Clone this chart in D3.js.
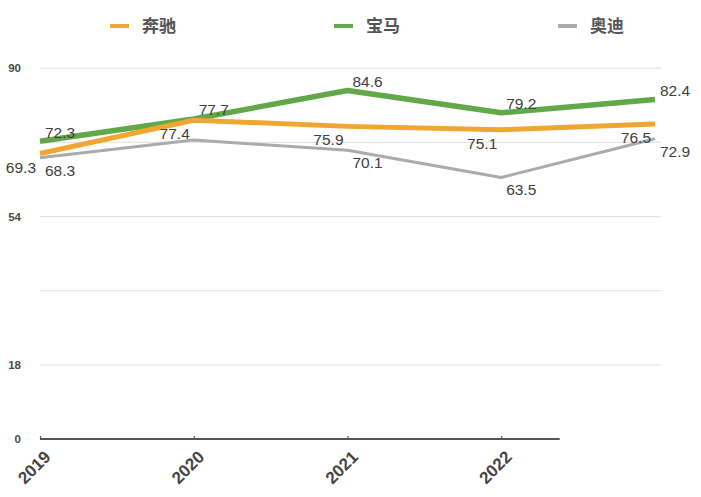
<!DOCTYPE html>
<html>
<head>
<meta charset="utf-8">
<script src="https://cdn.jsdelivr.net/npm/d3@7"></script>
<style>
    body { margin: 0; background: #fff; }
    svg { display: block; font-family: "Liberation Sans", Arial, sans-serif; }
</style>
</head>
<body>
<div id="chart"></div>
<script>
// Data
const years = [2019, 2020, 2021, 2022, 2023];
const yearLabels = ['2019', '2020', '2021', '2022'];
const benz = [69.3, 77.4, 75.9, 75.1, 76.5];
const bmw = [72.3, 77.7, 84.6, 79.2, 82.4];
const audi = [68.3, 72.6, 70.1, 63.5, 72.9];
const benzLabels = ['69.3', '77.4', '75.9', '75.1', '76.5'];
const bmwLabels = ['72.3', '77.7', '84.6', '79.2', '82.4'];
const audiLabels = ['68.3', null, '70.1', '63.5', '72.9'];
const seriesNames = ['奔驰', '宝马', '奥迪'];
const gridTicks = [0, 18, 36, 54, 72, 90];
const yTickLabels = [0, 18, 54, 90];

// Constants
const WIDTH = 701;
const HEIGHT = 497;
const LEFT = 40;
const RIGHT = 655;
const TOP = 68.3;
const BOTTOM = 439;

const svg = d3.select('#chart')
    .append('svg').attr('width', WIDTH).attr('height', HEIGHT);

const x = d3.scaleLinear().domain([2019, 2023]).range([LEFT, RIGHT]);
const y = d3.scaleLinear().domain([0, 90]).range([BOTTOM, TOP]);

// series styling (colour, width, label placement)
const series = [
    { name: seriesNames[0], values: benz, labels: benzLabels, color: '#f0a732', width: 5, anchor: 'end', dx: -4, dy: 19 },
    { name: seriesNames[1], values: bmw, labels: bmwLabels, color: '#62a849', width: 5.5, anchor: 'start', dx: 5, dy: -3.5 },
    { name: seriesNames[2], values: audi, labels: audiLabels, color: '#ababab', width: 3, anchor: 'start', dx: 5, dy: 18 }
];

// Gridlines
svg.append('g')
    .attr('class', 'grid')
    .selectAll('line')
    .data(gridTicks.filter(d => d > 0))
    .join('line')
    .attr('x1', LEFT)
    .attr('x2', RIGHT + 6)
    .attr('y1', d => y(d))
    .attr('y2', d => y(d))
    .attr('stroke', '#e4e4e4')
    .attr('stroke-width', 1.2);

// Y axis labels (only some ticks are labelled)
const yAxis = d3.axisLeft(y)
    .tickValues(yTickLabels)
    .tickSize(0)
    .tickPadding(0)
    .tickFormat(d3.format('d'));

svg.append('g')
    .attr('transform', `translate(21,0)`)
    .call(yAxis)
    .call(g => g.select('.domain').remove())
    .call(g => g.selectAll('text')
        .attr('font-size', 11.5)
        .attr('font-weight', 'bold')
        .attr('fill', '#4a4a4a')
        .attr('font-family', '"Liberation Sans", Arial, sans-serif'));

// X axis
const xAxis = d3.axisBottom(x)
    .tickValues(years.slice(0, yearLabels.length))
    .tickSize(-3)
    .tickFormat((d, i) => yearLabels[i]);

const xg = svg.append('g')
    .attr('transform', `translate(0,${BOTTOM})`)
    .call(xAxis);

// the axis line stops short of the last year in the original
xg.select('.domain')
    .attr('d', `M${x(2019)},0H${x(2022.38)}`)
    .attr('stroke', '#555')
    .attr('stroke-width', 2);

xg.selectAll('.tick line')
    .attr('stroke', '#555')
    .attr('stroke-width', 1.2);

xg.selectAll('.tick text')
    .attr('y', 0)
    .attr('dy', 0)
    .attr('text-anchor', 'end')
    .attr('dominant-baseline', 'middle')
    .attr('transform', 'translate(8,16) rotate(-45)')
    .attr('font-size', 17)
    .attr('font-weight', 'bold')
    .attr('fill', '#454545')
    .attr('font-family', '"Liberation Sans", Arial, sans-serif');

// Lines
const Gen = d3.line()
    .x((d, i) => x(years[i]))
    .y(d => y(d));

svg.append('g')
    .selectAll('path')
    .data(series.slice().reverse())
    .join('path')
    .attr('d', d => Gen(d.values))
    .attr('fill', 'none')
    .attr('stroke', d => d.color)
    .attr('stroke-width', d => d.width)
    .attr('stroke-linejoin', 'round');

// Data labels
series.forEach(s => {
    svg.append('g')
        .selectAll('text')
        .data(s.values.map((v, i) => ({ v, i, label: s.labels[i] })).filter(d => d.label !== null))
        .join('text')
        .attr('x', d => x(years[d.i]) + s.dx)
        .attr('y', d => y(d.v) + s.dy)
        .attr('text-anchor', s.anchor)
        .attr('font-size', 15.5)
        .attr('fill', '#404040')
        .text(d => d.label);
});

// Legend
const legend = svg.append('g')
    .selectAll('g')
    .data(series)
    .join('g')
    .attr('transform', (d, i) => `translate(${110 + i * 224},26)`);

legend.append('line')
    .attr('x1', 0)
    .attr('x2', 19)
    .attr('stroke', d => d.color)
    .attr('stroke-width', 4);

legend.append('text')
    .attr('x', 32)
    .attr('y', 6)
    .attr('font-size', 17)
    .attr('font-weight', 'bold')
    .attr('fill', '#555')
    .attr('font-family', '"Noto Sans CJK SC", sans-serif')
    .text(d => d.name);
</script>
</body>
</html>
